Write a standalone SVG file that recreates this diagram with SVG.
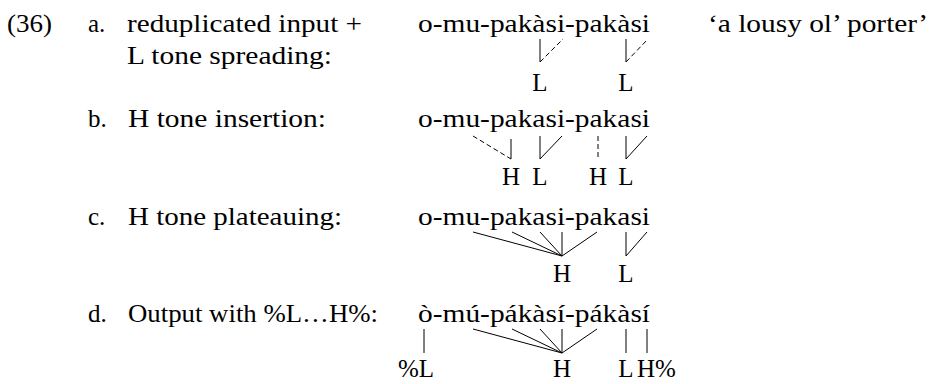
<svg xmlns="http://www.w3.org/2000/svg" width="931" height="384" viewBox="0 0 931 384">
<style>
text{font-family:"Liberation Serif","Times New Roman",serif;font-size:25px;fill:#000}
.m{text-anchor:middle}
line{stroke:#000;stroke-width:1}
.d{stroke-dasharray:5 3}
</style>
<rect width="931" height="384" fill="#fff"/>
<g id="example-number"><text x="7" y="32" textLength="45" lengthAdjust="spacingAndGlyphs">(36)</text></g>
<g id="row-a">
<text x="88" y="32">a.</text>
<text x="127" y="32" textLength="235" lengthAdjust="spacingAndGlyphs">reduplicated input +</text>
<text x="127" y="64" textLength="205" lengthAdjust="spacingAndGlyphs">L tone spreading:</text>
<text x="418" y="32" textLength="232" lengthAdjust="spacingAndGlyphs">o-mu-pakàsi-pakàsi</text>
<text x="708" y="32" textLength="220" lengthAdjust="spacingAndGlyphs">‘a lousy ol’ porter’</text>
<text class="m" x="540" y="91">L</text>
<text class="m" x="626" y="91">L</text>
</g>
<g id="row-b">
<text x="88" y="127">b.</text>
<text x="128" y="127" textLength="198" lengthAdjust="spacingAndGlyphs">H tone insertion:</text>
<text x="418" y="127" textLength="232" lengthAdjust="spacingAndGlyphs">o-mu-pakasi-pakasi</text>
<text class="m" x="511" y="185">H</text>
<text class="m" x="540" y="185">L</text>
<text class="m" x="598" y="185">H</text>
<text class="m" x="626" y="185">L</text>
</g>
<g id="row-c">
<text x="88" y="225">c.</text>
<text x="128" y="225" textLength="214" lengthAdjust="spacingAndGlyphs">H tone plateauing:</text>
<text x="418" y="225" textLength="232" lengthAdjust="spacingAndGlyphs">o-mu-pakasi-pakasi</text>
<text class="m" x="562" y="282">H</text>
<text class="m" x="626" y="282">L</text>
</g>
<g id="row-d">
<text x="88" y="322">d.</text>
<text x="128" y="322" textLength="250" lengthAdjust="spacingAndGlyphs">Output with %L…H%:</text>
<text x="418" y="322" textLength="232" lengthAdjust="spacingAndGlyphs">ò-mú-pákàsí-pákàsí</text>
<text class="m" x="416" y="377">%L</text>
<text class="m" x="562" y="377">H</text>
<text class="m" x="626" y="377">L</text>
<text x="637" y="377">H%</text>
</g>
<g id="connectors">
<line x1="540" y1="39" x2="540" y2="62"/>
<line class="d" x1="540" y1="62" x2="563" y2="39"/>
<line x1="626" y1="39" x2="626" y2="62"/>
<line class="d" x1="626" y1="62" x2="648" y2="39"/>

<line class="d" x1="473" y1="136" x2="511" y2="159"/>
<line x1="511" y1="139" x2="511" y2="159"/>
<line x1="540" y1="136" x2="540" y2="159"/>
<line x1="540" y1="159" x2="562" y2="136"/>
<line class="d" x1="598" y1="136" x2="598" y2="159"/>
<line x1="626" y1="136" x2="626" y2="159"/>
<line x1="626" y1="159" x2="647" y2="136"/>

<line x1="473" y1="232" x2="562" y2="256"/>
<line x1="512" y1="232" x2="562" y2="256"/>
<line x1="540" y1="232" x2="562" y2="256"/>
<line x1="562" y1="232" x2="562" y2="256"/>
<line x1="597" y1="232" x2="562" y2="256"/>
<line x1="626" y1="232" x2="626" y2="256"/>
<line x1="626" y1="256" x2="647" y2="232"/>

<line x1="424" y1="329" x2="424" y2="353"/>
<line x1="473" y1="329" x2="562" y2="353"/>
<line x1="512" y1="329" x2="562" y2="353"/>
<line x1="540" y1="329" x2="562" y2="353"/>
<line x1="562" y1="329" x2="562" y2="353"/>
<line x1="597" y1="329" x2="562" y2="353"/>
<line x1="626" y1="329" x2="626" y2="353"/>
<line x1="647" y1="329" x2="647" y2="353"/>
</g>
</svg>
